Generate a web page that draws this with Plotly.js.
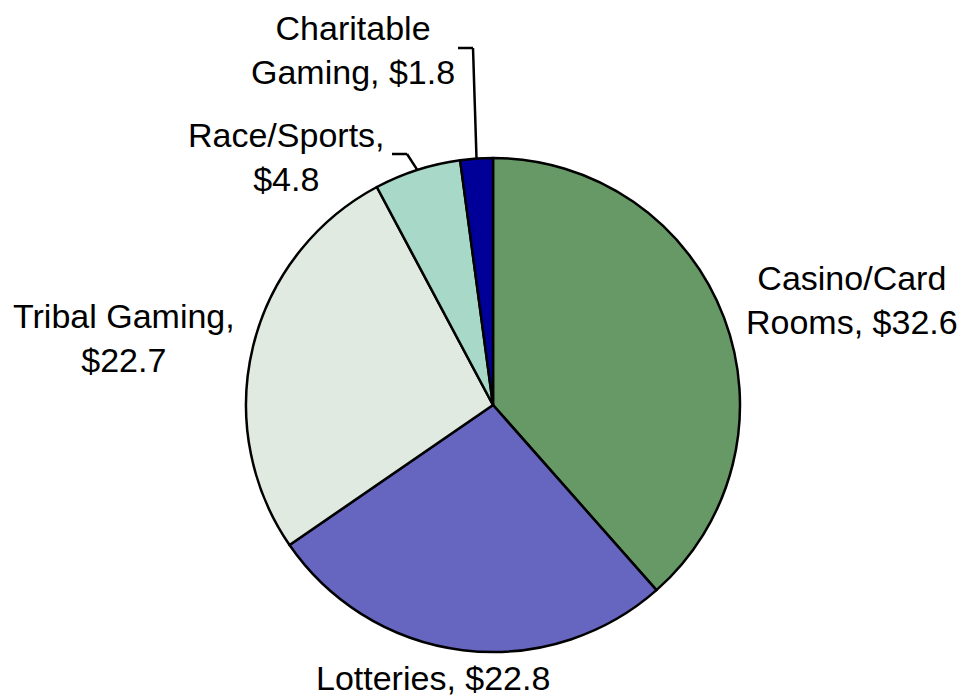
<!DOCTYPE html>
<html>
<head>
<meta charset="utf-8">
<script src="https://cdn.plot.ly/plotly-3.0.1.min.js"></script>
<style>html,body{margin:0;padding:0;background:#fff;}#chart{width:964px;height:700px;}</style>
</head>
<body>
<div id="chart"></div>
<script>
// Data
var categories = ["Casino/Card Rooms", "Lotteries", "Tribal Gaming", "Race/Sports", "Charitable Gaming"];
var values = [32.6, 22.8, 22.7, 4.8, 1.8];
var labelTexts = ["Casino/Card<br>Rooms, $32.6", "Lotteries, $22.8", "Tribal Gaming,<br>$22.7", "Race/Sports,<br>$4.8", "Charitable<br>Gaming, $1.8"];
var colors = ["#669966", "#6666C0", "#E0EAE0", "#A8D8C8", "#000099"];

// Layout helpers (pixel positions of label centres)
var W = 964, H = 700;
var labelPos = [[852, 300], [433, 678], [124, 338], [286, 157], [353, 50]];
function px(x) { return x / W; }
function py(y) { return 1 - y / H; }

// pie geometry in pixels
var cx = 493, cy = 405, r = 247;
var total = values.reduce(function (a, b) { return a + b; }, 0);
function edgePoint(i, inset) {
  var cum = 0;
  for (var k = 0; k < i; k++) cum += values[k];
  var mid = (cum + values[i] / 2) / total * 2 * Math.PI;
  var rr = r - (inset || 0);
  return [cx + rr * Math.sin(mid), cy - rr * Math.cos(mid)];
}

var annotations = labelTexts.map(function (t, i) {
  return {
    text: t, x: px(labelPos[i][0]), y: py(labelPos[i][1]), xref: "paper", yref: "paper",
    showarrow: false, align: "center", xanchor: "center", yanchor: "middle",
    font: { family: "Liberation Sans, Arial, sans-serif", size: 34, color: "#000" }
  };
});

var lineStyle = { color: "#000", width: 2.5 };
var pC = edgePoint(4, 0), pR = edgePoint(3, 0);
var shapes = [
  { type: "line", xref: "paper", yref: "paper", x0: px(pC[0]), y0: py(pC[1]), x1: px(473), y1: py(48), line: lineStyle },
  { type: "line", xref: "paper", yref: "paper", x0: px(473), y0: py(48), x1: px(458), y1: py(48), line: lineStyle },
  { type: "line", xref: "paper", yref: "paper", x0: px(pR[0]), y0: py(pR[1]), x1: px(407), y1: py(154), line: lineStyle },
  { type: "line", xref: "paper", yref: "paper", x0: px(407), y0: py(154), x1: px(392), y1: py(154), line: lineStyle }
];

var trace = {
  type: "pie",
  labels: categories,
  values: values,
  sort: false,
  direction: "clockwise",
  rotation: 0,
  textinfo: "none",
  marker: { colors: colors, line: { color: "#000", width: 2.5 } },
  domain: { x: [px(cx - r), px(cx + r)], y: [py(cy + r), py(cy - r)] },
  showlegend: false
};

var layout = {
  width: W, height: H,
  margin: { l: 0, r: 0, t: 0, b: 0 },
  paper_bgcolor: "#fff",
  showlegend: false,
  annotations: annotations,
  shapes: shapes
};

Plotly.newPlot("chart", [trace], layout, { displayModeBar: false, staticPlot: true });
</script>
</body>
</html>
